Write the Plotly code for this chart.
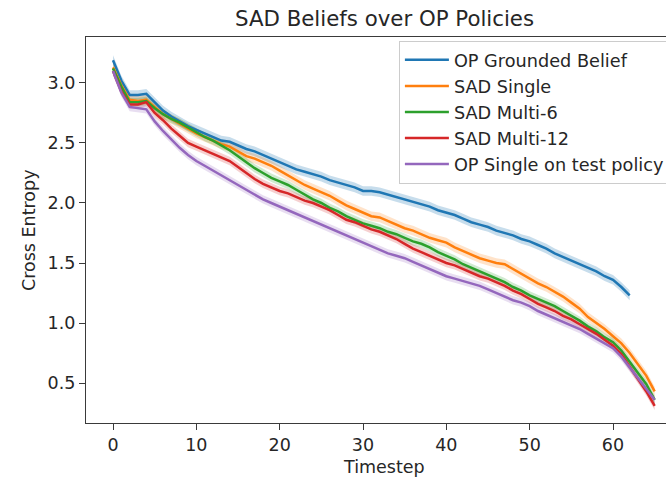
import plotly.graph_objects as go

timesteps_blue = list(range(0, 63))
timesteps = list(range(0, 66))

op_grounded = [3.19, 3.02, 2.90, 2.90, 2.91, 2.84, 2.77, 2.72, 2.68, 2.64,
               2.61, 2.58, 2.55, 2.52, 2.51, 2.48, 2.45, 2.43, 2.40, 2.37,
               2.34, 2.31, 2.28, 2.26, 2.24, 2.22, 2.19, 2.17, 2.15, 2.13,
               2.10, 2.10, 2.09, 2.07, 2.05, 2.03, 2.01, 1.99, 1.97, 1.94,
               1.92, 1.90, 1.87, 1.84, 1.82, 1.80, 1.77, 1.75, 1.73, 1.70,
               1.68, 1.65, 1.62, 1.58, 1.55, 1.52, 1.49, 1.46, 1.43, 1.39,
               1.36, 1.30, 1.23]

sad_single = [3.13, 2.98, 2.86, 2.85, 2.86, 2.80, 2.74, 2.70, 2.66, 2.62,
              2.58, 2.55, 2.52, 2.49, 2.47, 2.43, 2.39, 2.37, 2.34, 2.31,
              2.27, 2.23, 2.19, 2.15, 2.12, 2.09, 2.06, 2.02, 1.98, 1.95,
              1.92, 1.89, 1.88, 1.85, 1.82, 1.79, 1.77, 1.74, 1.71, 1.69,
              1.67, 1.63, 1.60, 1.57, 1.54, 1.52, 1.50, 1.49, 1.45, 1.41,
              1.37, 1.33, 1.30, 1.26, 1.22, 1.17, 1.12, 1.05, 1.00, 0.95,
              0.89, 0.83, 0.75, 0.66, 0.56, 0.43]

sad_multi6 = [3.12, 2.97, 2.84, 2.84, 2.85, 2.79, 2.74, 2.70, 2.67, 2.63,
              2.59, 2.55, 2.52, 2.48, 2.44, 2.39, 2.34, 2.29, 2.25, 2.21,
              2.18, 2.15, 2.11, 2.07, 2.03, 2.00, 1.96, 1.93, 1.89, 1.86,
              1.83, 1.81, 1.79, 1.76, 1.74, 1.71, 1.68, 1.66, 1.63, 1.59,
              1.56, 1.53, 1.49, 1.46, 1.43, 1.40, 1.37, 1.34, 1.30, 1.27,
              1.23, 1.20, 1.17, 1.14, 1.10, 1.06, 1.02, 0.97, 0.93, 0.88,
              0.84, 0.77, 0.68, 0.59, 0.49, 0.36]

sad_multi12 = [3.10, 2.93, 2.82, 2.82, 2.84, 2.75, 2.69, 2.62, 2.56, 2.50,
               2.47, 2.44, 2.41, 2.38, 2.35, 2.30, 2.25, 2.20, 2.16, 2.13,
               2.10, 2.08, 2.05, 2.02, 2.00, 1.97, 1.94, 1.90, 1.86, 1.84,
               1.81, 1.78, 1.76, 1.73, 1.70, 1.66, 1.62, 1.59, 1.56, 1.53,
               1.50, 1.48, 1.45, 1.42, 1.39, 1.37, 1.34, 1.31, 1.27, 1.24,
               1.20, 1.16, 1.13, 1.10, 1.06, 1.03, 0.99, 0.95, 0.91, 0.86,
               0.81, 0.74, 0.64, 0.54, 0.43, 0.31]

op_single_test = [3.10, 2.92, 2.80, 2.79, 2.78, 2.68, 2.60, 2.53, 2.46, 2.40,
                  2.35, 2.31, 2.27, 2.23, 2.19, 2.15, 2.11, 2.07, 2.03, 2.00,
                  1.97, 1.94, 1.91, 1.88, 1.85, 1.82, 1.79, 1.76, 1.73, 1.70,
                  1.67, 1.64, 1.61, 1.58, 1.56, 1.54, 1.51, 1.48, 1.45, 1.42,
                  1.39, 1.37, 1.35, 1.33, 1.31, 1.28, 1.25, 1.22, 1.19, 1.17,
                  1.14, 1.10, 1.07, 1.04, 1.01, 0.98, 0.95, 0.91, 0.87, 0.83,
                  0.79, 0.72, 0.63, 0.55, 0.46, 0.36]

band_halfwidth = [0.04, 0.04, 0.035, 0.035, 0.035]

names = ["OP Grounded Belief", "SAD Single", "SAD Multi-6", "SAD Multi-12",
         "OP Single on test policy"]
colors = ["#1f77b4", "#ff7f0e", "#2ca02c", "#d62728", "#9467bd"]
fills = ["rgba(31,119,180,0.25)", "rgba(255,127,14,0.22)", "rgba(44,160,44,0.22)",
         "rgba(214,39,40,0.22)", "rgba(148,103,189,0.22)"]
series = [(timesteps_blue, op_grounded), (timesteps, sad_single), (timesteps, sad_multi6),
          (timesteps, sad_multi12), (timesteps, op_single_test)]

fig = go.Figure()
for (xs, ys), name, col, fc, hw in zip(series, names, colors, fills, band_halfwidth):
    fig.add_trace(go.Scatter(x=xs, y=[v + hw for v in ys], mode="lines",
                             line=dict(width=0), showlegend=False, hoverinfo="skip"))
    fig.add_trace(go.Scatter(x=xs, y=[v - hw for v in ys], mode="lines",
                             line=dict(width=0), fill="tonexty", fillcolor=fc,
                             showlegend=False, hoverinfo="skip"))
for (xs, ys), name, col in zip(series, names, colors):
    fig.add_trace(go.Scatter(x=xs, y=ys, mode="lines", name=name,
                             line=dict(color=col, width=2.5)))

font = "DejaVu Sans"
# The original axes extend past the right edge of the 666px picture; the figure is
# drawn wider and the browser window crops it.
fig.update_layout(
    width=690, height=477,
    margin=dict(l=86, r=8, t=37, b=54),
    paper_bgcolor="white", plot_bgcolor="white",
    font=dict(family=font, size=17.5, color="#262626"),
    showlegend=True,
    legend=dict(x=0.525, y=0.99, xanchor="left", yanchor="top",
                traceorder="normal",
                bgcolor="rgba(255,255,255,0.85)", bordercolor="#cccccc", borderwidth=1,
                font=dict(family=font, size=17.7, color="#262626"),
                itemwidth=44, tracegroupgap=0),
    xaxis=dict(range=[-3.24, 68.28], tickvals=[0, 10, 20, 30, 40, 50, 60],
               showgrid=False, zeroline=False, showline=True, mirror=True,
               linecolor="#3a3a3a", linewidth=1.3, ticks="outside", ticklen=6,
               tickwidth=1.3, tickcolor="#3a3a3a", tickfont=dict(size=17.5),
               automargin=False),
    yaxis=dict(range=[0.167, 3.383], tickvals=[0.5, 1.0, 1.5, 2.0, 2.5, 3.0],
               ticktext=["0.5", "1.0", "1.5", "2.0", "2.5", "3.0"],
               showgrid=False, zeroline=False, showline=True, mirror=True,
               linecolor="#3a3a3a", linewidth=1.3, ticks="outside", ticklen=6,
               tickwidth=1.3, tickcolor="#3a3a3a", tickfont=dict(size=17.5),
               automargin=False),
    annotations=[
        dict(text="SAD Beliefs over OP Policies", xref="paper", yref="paper",
             x=0.5, y=1.049, xanchor="center", yanchor="middle", showarrow=False,
             font=dict(family=font, size=21.3, color="#262626")),
        dict(text="Timestep", xref="paper", yref="paper",
             x=0.5, y=-0.114, xanchor="center", yanchor="middle", showarrow=False,
             font=dict(family=font, size=17.5, color="#262626")),
        dict(text="Cross Entropy", xref="paper", yref="paper", textangle=-90,
             x=-0.0956, y=0.5, xanchor="center", yanchor="middle", showarrow=False,
             font=dict(family=font, size=17.5, color="#262626")),
    ],
)

fig.write_html("out.html", config={"displayModeBar": False},
               post_script="document.body.style.margin='0px';document.body.style.overflow='hidden';")
